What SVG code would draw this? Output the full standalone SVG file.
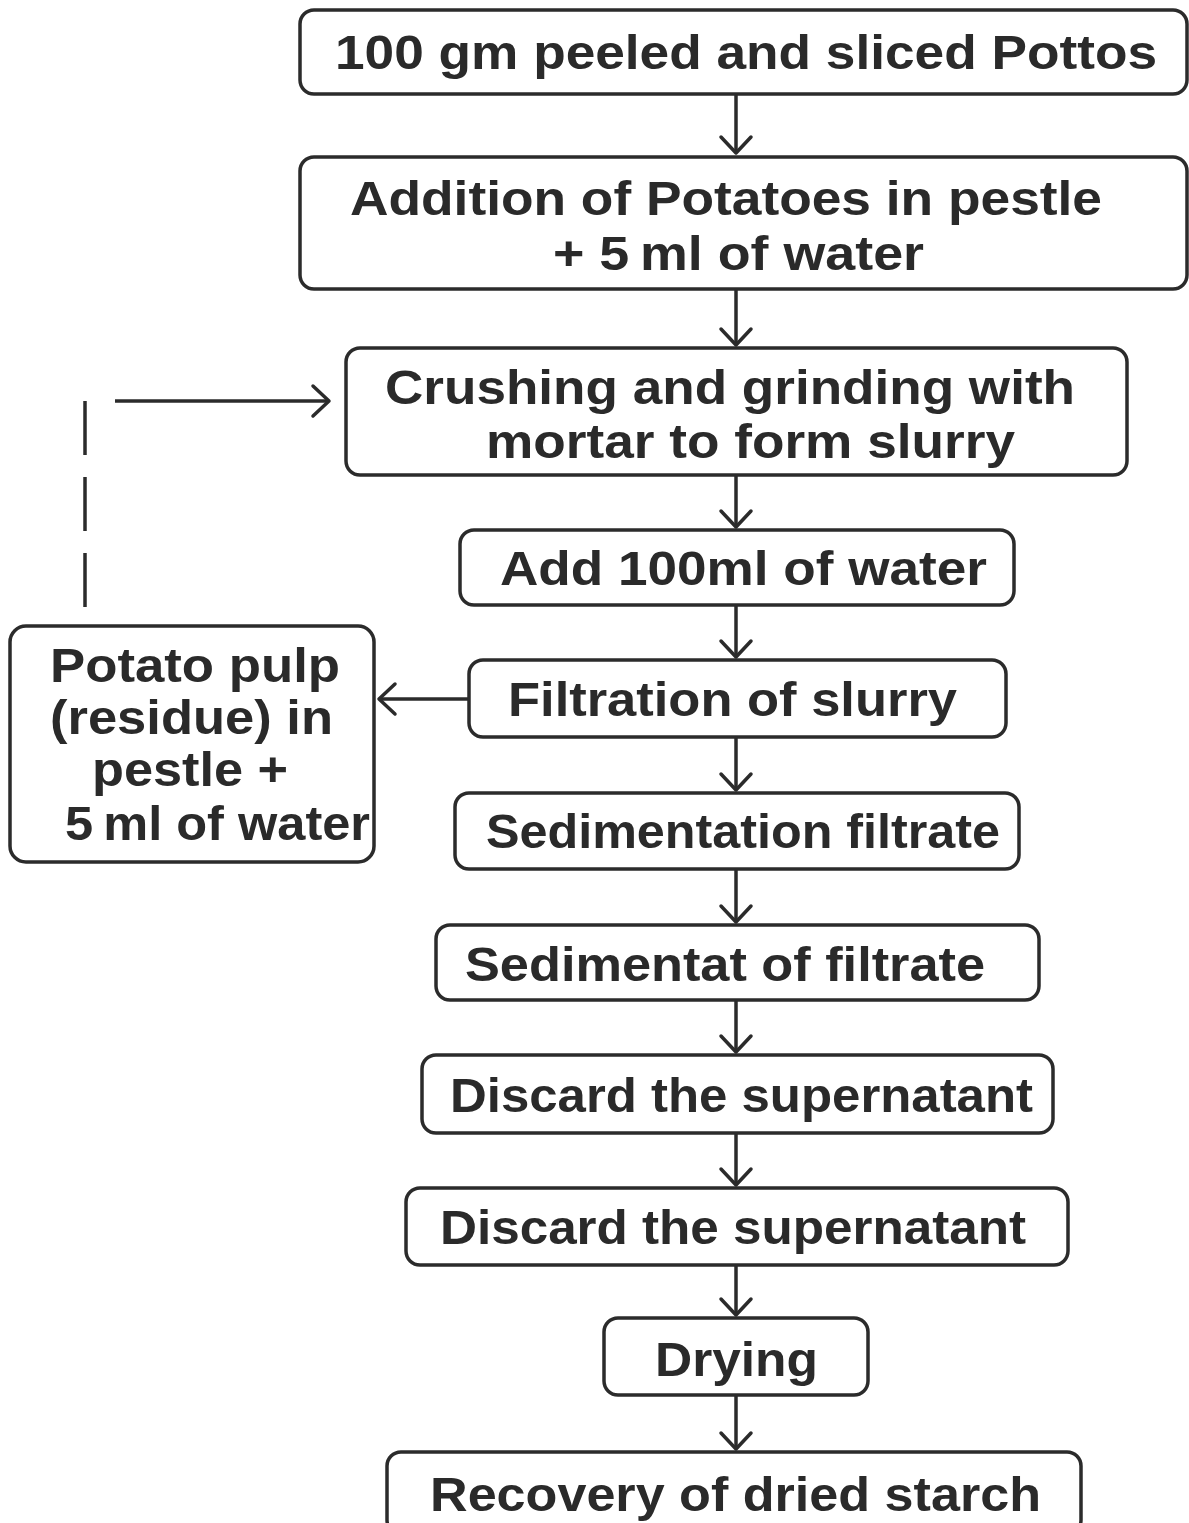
<svg xmlns="http://www.w3.org/2000/svg" width="1189" height="1523" viewBox="0 0 1189 1523">
<style>
.box{fill:#fff;stroke:#2b2b2b;stroke-width:3.5}
.t{font-family:"Liberation Sans",Arial,sans-serif;font-weight:bold;font-size:49px;fill:#2a2a2a}
.c{stroke:#2b2b2b;stroke-width:3.5;fill:none}
</style>
<defs>
<marker id="ah" markerUnits="userSpaceOnUse" markerWidth="26" markerHeight="36" refX="19" refY="18" orient="auto" viewBox="0 0 26 36">
<path d="M3,3 L19,18 L3,33" fill="none" stroke="#2b2b2b" stroke-width="3.5" stroke-linecap="round" stroke-linejoin="round"/>
</marker>
</defs>
<rect width="1189" height="1523" fill="#fff"/>
<g id="connectors">
<line class="c" x1="736" y1="94" x2="736" y2="153" marker-end="url(#ah)"/>
<line class="c" x1="736" y1="289" x2="736" y2="345" marker-end="url(#ah)"/>
<line class="c" x1="736" y1="475" x2="736" y2="527" marker-end="url(#ah)"/>
<line class="c" x1="736" y1="605" x2="736" y2="657" marker-end="url(#ah)"/>
<line class="c" x1="736" y1="737" x2="736" y2="790" marker-end="url(#ah)"/>
<line class="c" x1="736" y1="869" x2="736" y2="922" marker-end="url(#ah)"/>
<line class="c" x1="736" y1="1000" x2="736" y2="1052" marker-end="url(#ah)"/>
<line class="c" x1="736" y1="1133" x2="736" y2="1185" marker-end="url(#ah)"/>
<line class="c" x1="736" y1="1265" x2="736" y2="1315" marker-end="url(#ah)"/>
<line class="c" x1="736" y1="1395" x2="736" y2="1449" marker-end="url(#ah)"/>
<line class="c" x1="469" y1="699" x2="379" y2="699" marker-end="url(#ah)"/>
<line class="c" x1="85" y1="401" x2="85" y2="607" stroke-dasharray="54 22"/>
<line class="c" x1="115" y1="401" x2="329" y2="401" marker-end="url(#ah)"/>
</g>
<g id="n1"><rect class="box" x="300" y="10" width="887" height="84" rx="14"/>
<text class="t" x="335" y="69" textLength="822" lengthAdjust="spacingAndGlyphs">100 gm peeled and sliced Pottos</text></g>
<g id="n2"><rect class="box" x="300" y="157" width="887" height="132" rx="14"/>
<text class="t" x="350" y="215" textLength="752" lengthAdjust="spacingAndGlyphs">Addition of Potatoes in pestle</text>
<text class="t" x="553" y="270" textLength="371" lengthAdjust="spacingAndGlyphs">+ 5&#8201;ml of water</text></g>
<g id="n3"><rect class="box" x="346" y="348" width="781" height="127" rx="14"/>
<text class="t" x="385" y="404" textLength="690" lengthAdjust="spacingAndGlyphs">Crushing and grinding with</text>
<text class="t" x="486" y="458" textLength="529" lengthAdjust="spacingAndGlyphs">mortar to form slurry</text></g>
<g id="n4"><rect class="box" x="460" y="530" width="554" height="75" rx="14"/>
<text class="t" x="500" y="585" textLength="487" lengthAdjust="spacingAndGlyphs">Add 100ml of water</text></g>
<g id="n5"><rect class="box" x="469" y="660" width="537" height="77" rx="14"/>
<text class="t" x="508" y="716" textLength="449" lengthAdjust="spacingAndGlyphs">Filtration of slurry</text></g>
<g id="n6"><rect class="box" x="10" y="626" width="364" height="236" rx="16"/>
<text class="t" x="50" y="682" textLength="290" lengthAdjust="spacingAndGlyphs">Potato pulp</text>
<text class="t" x="50" y="734" textLength="283" lengthAdjust="spacingAndGlyphs">(residue) in</text>
<text class="t" x="92" y="786" textLength="196" lengthAdjust="spacingAndGlyphs">pestle +</text>
<text class="t" x="65" y="840" textLength="305" lengthAdjust="spacingAndGlyphs">5&#8201;ml of water</text></g>
<g id="n7"><rect class="box" x="455" y="793" width="564" height="76" rx="14"/>
<text class="t" x="486" y="848" textLength="514" lengthAdjust="spacingAndGlyphs">Sedimentation filtrate</text></g>
<g id="n8"><rect class="box" x="436" y="925" width="603" height="75" rx="14"/>
<text class="t" x="465" y="981" textLength="520" lengthAdjust="spacingAndGlyphs">Sedimentat of filtrate</text></g>
<g id="n9"><rect class="box" x="422" y="1055" width="631" height="78" rx="14"/>
<text class="t" x="450" y="1112" textLength="583" lengthAdjust="spacingAndGlyphs">Discard the supernatant</text></g>
<g id="n10"><rect class="box" x="406" y="1188" width="662" height="77" rx="14"/>
<text class="t" x="440" y="1244" textLength="586" lengthAdjust="spacingAndGlyphs">Discard the supernatant</text></g>
<g id="n11"><rect class="box" x="604" y="1318" width="264" height="77" rx="14"/>
<text class="t" x="655" y="1376" textLength="163" lengthAdjust="spacingAndGlyphs">Drying</text></g>
<g id="n12"><rect class="box" x="387" y="1452" width="694" height="82" rx="14"/>
<text class="t" x="430" y="1511" textLength="611" lengthAdjust="spacingAndGlyphs">Recovery of dried starch</text></g>
</svg>
